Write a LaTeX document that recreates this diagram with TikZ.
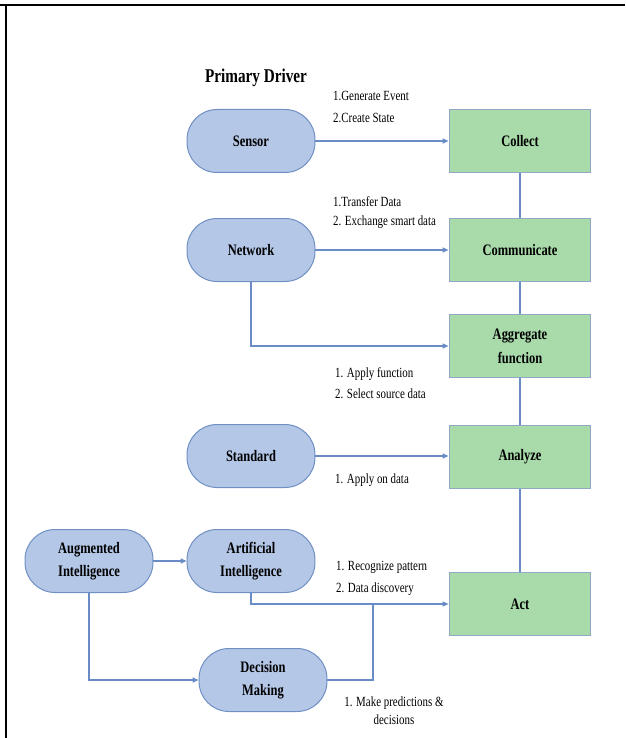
\documentclass[tikz,border=0pt]{standalone}
\usepackage{fontspec}
\setmainfont{Liberation Serif}
\usetikzlibrary{arrows.meta}
\definecolor{drivefill}{HTML}{B4C7E7}
\definecolor{driveline}{HTML}{7090C4}
\definecolor{stagefill}{HTML}{A9DBAA}
\definecolor{stageline}{HTML}{8FA8C4}
\definecolor{flowline}{HTML}{6A8CC6}

\begin{document}
\begin{tikzpicture}[x=1pt,y=-1pt,
			every node/.style={xscale=0.78},
			driver/.style={draw=driveline, fill=drivefill, line width=1pt, rounded corners=30pt, minimum width=164pt, minimum height=63pt, align=center, font=\fontsize{16}{23}\selectfont\bfseries},
			stage/.style={draw=stageline, fill=stagefill, line width=1pt, minimum width=182pt, minimum height=63pt, align=center, font=\fontsize{16}{24}\selectfont\bfseries},
			note/.style={anchor=west, align=left, inner sep=0pt, font=\fontsize{14}{22}\selectfont},
			flow/.style={draw=flowline, line width=1.1pt},
			arr/.style={flow, -{Triangle[length=6pt,width=5pt]}}]
			\useasboundingbox (0,0) rectangle (625,738);
			\draw[line width=2pt] (0,5) -- (625,5);
			\draw[line width=2pt] (6,5) -- (6,738);
			\node[font=\fontsize{19.5}{22}\selectfont\bfseries] (title) at (256,78) {Primary Driver};
			% drivers
			\node[driver] (sensor) at (251,141) {Sensor};
			\node[driver] (network) at (251,250) {Network};
			\node[driver] (standard) at (251,456) {Standard};
			\node[driver] (augment) at (89,561) {Augmented\\Intelligence};
			\node[driver] (artif) at (251,561) {Artificial\\Intelligence};
			\node[driver] (decision) at (263,680) {Decision\\Making};
			% stages
			\node[stage] (collect) at (520,141) {Collect};
			\node[stage] (communicate) at (520,250) {Communicate};
			\node[stage] (aggregate) at (520,346) {Aggregate\\function};
			\node[stage] (analyze) at (520,457) {Analyze};
			\node[stage] (act) at (520,604) {Act};
			\draw[flow] (collect) -- (communicate) -- (aggregate) -- (analyze) -- (act);
			\draw[arr] (sensor) -- (collect);
			\draw[arr] (network) -- (communicate);
			\draw[arr] (network.south) |- (aggregate.west);
			\draw[arr] (standard.east) -- (standard.east -| analyze.west);
			\draw[arr] (augment) -- (artif);
			\draw[arr] (artif.south) |- (act.west);
			\draw[arr] (augment.south) |- (decision.west);
			\coordinate (join) at (373,604);
			\draw[flow] (decision.east) -| (join);
			% notes
			\node[note] (n1) at (333,106.5) {1.Generate Event\\2.Create State};
			\node[note, font=\fontsize{14}{19}\selectfont] (n2) at (333,212.5) {1.Transfer Data\\2. Exchange smart data};
			\node[note, font=\fontsize{14}{21}\selectfont] (n3) at (335,383.5) {1. Apply function\\2. Select source data};
			\node[note] (n4) at (335,480) {1. Apply on data};
			\node[note] (n5) at (336,578) {1. Recognize pattern\\2. Data discovery};
			\node[note, anchor=center, align=center, font=\fontsize{14}{18}\selectfont] (n6) at (394,711) {1. Make predictions \&\\decisions};
		\end{tikzpicture}
\end{document}
